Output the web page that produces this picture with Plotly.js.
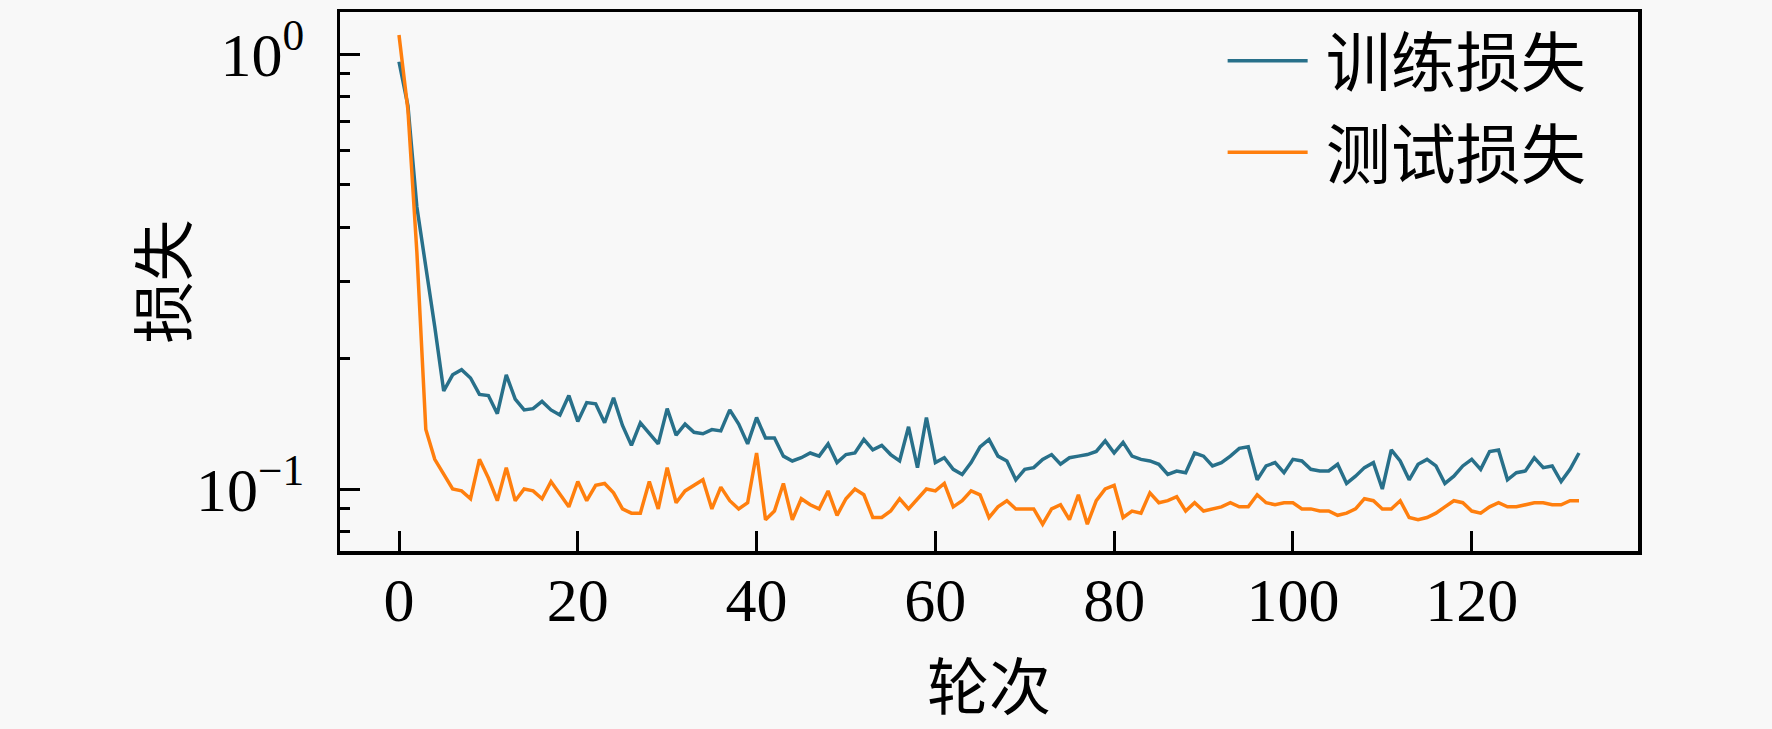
<!DOCTYPE html>
<html>
<head>
<meta charset="utf-8">
<script src="https://cdn.plot.ly/plotly-3.0.1.min.js"></script>
<style>
  html, body { margin: 0; padding: 0; background: #f8f8f8; }
  #chart { width: 1772px; height: 729px; }
</style>
</head>
<body>
<div id="chart"></div>
<script>
// loss per epoch (log scale)
const trainLoss = [
  0.96, 0.76, 0.445, 0.326, 0.236, 0.168,
  0.183, 0.188, 0.180, 0.165, 0.164, 0.149, 0.183, 0.161, 0.152, 0.153,
  0.159, 0.152, 0.148, 0.164, 0.143, 0.158, 0.157, 0.142, 0.162, 0.140,
  0.126, 0.142, 0.134, 0.127, 0.153, 0.133, 0.141, 0.135, 0.134, 0.137,
  0.136, 0.152, 0.141, 0.127, 0.146, 0.131, 0.131, 0.119, 0.116, 0.118,
  0.121, 0.119, 0.127, 0.115, 0.120, 0.121, 0.130, 0.123, 0.126, 0.120,
  0.116, 0.139, 0.112, 0.146, 0.115, 0.118, 0.111, 0.108, 0.115, 0.125,
  0.130, 0.119, 0.116, 0.105, 0.111, 0.112, 0.117, 0.120, 0.114, 0.118,
  0.119, 0.120, 0.122, 0.129, 0.121, 0.128, 0.119, 0.117, 0.116, 0.114,
  0.108, 0.110, 0.109, 0.121, 0.119, 0.113, 0.115, 0.119, 0.124, 0.125,
  0.105, 0.113, 0.115, 0.109, 0.117, 0.116, 0.111, 0.110, 0.110, 0.114,
  0.103, 0.107, 0.112, 0.115, 0.100, 0.123, 0.116, 0.105, 0.114, 0.117,
  0.113, 0.103, 0.107, 0.113, 0.117, 0.111, 0.122, 0.123, 0.105, 0.109,
  0.110, 0.118, 0.112, 0.113, 0.104, 0.111, 0.121
];

const testLoss = [
  1.106, 0.743, 0.35, 0.137, 0.117, 0.108,
  0.100, 0.099, 0.095, 0.117, 0.106, 0.094, 0.112, 0.094, 0.100, 0.099,
  0.095, 0.104, 0.097, 0.091, 0.104, 0.094, 0.102, 0.103, 0.098, 0.090,
  0.088, 0.088, 0.104, 0.090, 0.112, 0.093, 0.099, 0.102, 0.105, 0.090,
  0.101, 0.094, 0.090, 0.093, 0.121, 0.085, 0.089, 0.103, 0.085, 0.095,
  0.092, 0.090, 0.099, 0.087, 0.095, 0.100, 0.097, 0.086, 0.086, 0.089,
  0.095, 0.090, 0.095, 0.100, 0.099, 0.103, 0.091, 0.094, 0.099, 0.097,
  0.086, 0.091, 0.094, 0.090, 0.090, 0.090, 0.083, 0.090, 0.092, 0.085,
  0.097, 0.083, 0.094, 0.100, 0.102, 0.086, 0.089, 0.088, 0.098, 0.093,
  0.094, 0.096, 0.089, 0.093, 0.089, 0.090, 0.091, 0.093, 0.091, 0.091,
  0.097, 0.093, 0.092, 0.093, 0.093, 0.090, 0.090, 0.089, 0.089, 0.087,
  0.088, 0.090, 0.095, 0.094, 0.090, 0.090, 0.094, 0.086, 0.085, 0.086,
  0.088, 0.091, 0.094, 0.093, 0.089, 0.088, 0.091, 0.093, 0.091, 0.091,
  0.092, 0.093, 0.093, 0.092, 0.092, 0.094, 0.094
];

const epochs = trainLoss.map((_, i) => i);

const seriesNames = ['训练损失', '测试损失'];
const xTitle = '轮次';
const yTitle = '损失';

const yTickVals = [0.1, 1];
const yTickText = ['10<sup>−1</sup>', '10<sup>0</sup>'];
const yMinorVals = [0.08, 0.09, 0.2, 0.3, 0.4, 0.5, 0.6, 0.7, 0.8, 0.9];

const FONT = 'Liberation Serif, Noto Sans CJK SC, serif';

// thin space so the legend text sits a bit further from its line, like the reference
const traces = [
  {
    x: epochs, y: trainLoss, name: '\u2009' + seriesNames[0], legendgroup: 'train',
    type: 'scatter', mode: 'lines',
    line: { color: '#28708a', width: 3.5 }
  },
  {
    x: epochs, y: testLoss, name: '\u2009' + seriesNames[1], legendgroup: 'test',
    type: 'scatter', mode: 'lines',
    line: { color: '#ff7f0e', width: 3.5 }
  }
];

const layout = {
  width: 1772,
  height: 729,
  margin: { l: 340, r: 134, t: 12, b: 178 },
  paper_bgcolor: '#f8f8f8',
  plot_bgcolor: '#f8f8f8',
  font: { family: FONT, size: 62, color: '#000' },
  showlegend: true,
  legend: {
    x: 0.68, y: 1.0, xanchor: 'left', yanchor: 'top',
    bgcolor: 'rgba(0,0,0,0)',
    font: { family: FONT, size: 65 },
    itemwidth: 80,
    tracegroupgap: 4
  },
  xaxis: {
    range: [-6.6, 138.6],
    tickmode: 'linear', tick0: 0, dtick: 20,
    ticks: 'inside', ticklen: 20, tickwidth: 3, tickcolor: '#000',
    showline: true, linewidth: 3.5, linecolor: '#000', mirror: true,
    showgrid: false, zeroline: false,
    ticklabelstandoff: -8
  },
  yaxis: {
    type: 'log',
    range: [-1.1425, 0.0966],
    tickmode: 'array', tickvals: yTickVals, ticktext: yTickText,
    ticks: 'inside', ticklen: 20, tickwidth: 3, tickcolor: '#000',
    minor: {
      tickmode: 'array', tickvals: yMinorVals,
      ticks: 'inside', ticklen: 10, tickwidth: 3, tickcolor: '#000', showgrid: false
    },
    showline: true, linewidth: 3.5, linecolor: '#000', mirror: true,
    showgrid: false, zeroline: false,
    ticklabelstandoff: 20
  },
  // axis titles as annotations so they sit where the reference has them
  annotations: [
    {
      text: yTitle, textangle: -90,
      xref: 'paper', yref: 'paper', x: -0.1348, y: 0.5,
      xanchor: 'center', yanchor: 'middle', showarrow: false,
      font: { family: FONT, size: 62, color: '#000' }
    },
    {
      text: xTitle,
      xref: 'paper', yref: 'paper', x: 0.5, y: -0.256,
      xanchor: 'center', yanchor: 'middle', showarrow: false,
      font: { family: FONT, size: 62, color: '#000' }
    }
  ]
};

Plotly.newPlot('chart', traces, layout, { staticPlot: true, displayModeBar: false });
</script>
</body>
</html>
